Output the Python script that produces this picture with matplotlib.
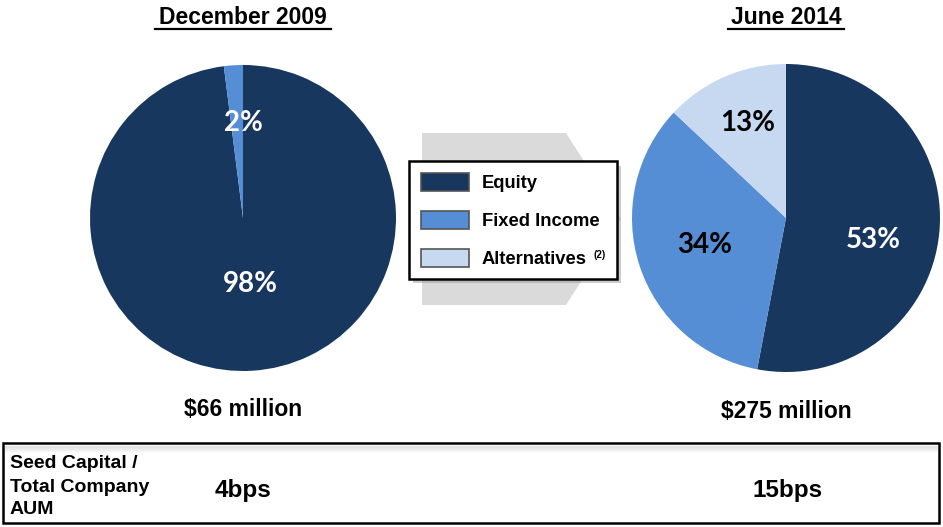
import matplotlib.pyplot as plt
from matplotlib.patches import Polygon, Rectangle

# data
categories = ["Equity", "Fixed Income", "Alternatives"]
colors = ["#17375E", "#558ED5", "#C6D9F1"]
dec2009 = [98, 2]
jun2014 = [53, 34, 13]
titles = ["December 2009", "June 2014"]
totals = ["$66 million", "$275 million"]
row_label = ["Seed Capital /", "Total Company", "AUM"]
bps = ["4bps", "15bps"]

W, H = 943, 527
fig = plt.figure(figsize=(W / 100, H / 100), dpi=100)
ax = fig.add_axes([0, 0, 1, 1])


def Y(y):
    # picture rows are counted from the top
    return H - y


def draw_pie(vals, cx, cy, r, label_xy, label_colors):
    wedges, _, autotexts = ax.pie(
        vals, colors=colors[:len(vals)], startangle=90, counterclock=False,
        center=(cx, Y(cy)), radius=r, frame=True,
        autopct=lambda p: f"{round(p):d}%",
        wedgeprops=dict(edgecolor="none", linewidth=0),
        textprops=dict(family="Lato", weight="bold", fontsize=20))
    for t, (lx, ly), c in zip(autotexts, label_xy, label_colors):
        t.set_position((lx, Y(ly)))
        t.set_color(c)


# gray arrow behind the legend
arrow = Polygon([(422, Y(133)), (566, Y(133)), (621, Y(219)), (566, Y(305)), (422, Y(305))],
                closed=True, facecolor="#DADADA", edgecolor="none", zorder=0)
ax.add_patch(arrow)

draw_pie(dec2009, 243, 218, 153, [(250, 284), (243, 123)], ["white", "white"])
draw_pie(jun2014, 786, 218, 154, [(873, 240), (705, 245), (748, 123)],
         ["white", "black", "black"])

# titles
for x, s, tw in zip([243, 786], titles, [176, 116]):
    ax.text(x, Y(17), s, ha="center", va="center", family="Liberation Sans",
            weight="bold", fontsize=16.5)
    ax.plot([x - tw / 2, x + tw / 2], [Y(29), Y(29)], color="black", lw=1.6)

for x, y, s in zip([243, 786], [409, 411], totals):
    ax.text(x, Y(y), s, ha="center", va="center", family="Liberation Sans",
            weight="bold", fontsize=16.5)

# legend box
ax.add_patch(Rectangle((413, Y(283)), 208, 117, facecolor="#9A9A9A", edgecolor="none",
                       alpha=0.5, zorder=3))
ax.add_patch(Rectangle((409, Y(279)), 208, 118, facecolor="white", edgecolor="black",
                       lw=1.8, zorder=4))
for i, (name, c) in enumerate(zip(categories, colors)):
    yy = 182 + i * 38
    ax.add_patch(Rectangle((421, Y(yy + 9)), 48, 18, facecolor=c, edgecolor="#555555",
                           lw=1.2, zorder=5))
    ax.text(482, Y(yy + 1), name, ha="left", va="center", family="Liberation Sans",
            weight="bold", fontsize=13.2, zorder=6)
ax.text(594, Y(255), "(2)", ha="left", va="center", family="Liberation Sans",
        weight="bold", fontsize=7, zorder=6)

# bottom box
ax.add_patch(Rectangle((3, Y(523)), 936, 80, facecolor="white", edgecolor="black",
                       lw=1.8, zorder=2))
for k in range(6):
    ax.plot([5, 937], [Y(446 + k), Y(446 + k)], color="#BBBBBB", alpha=0.35 - k * 0.05,
            lw=1, zorder=3)
for yy, s in zip([463, 487, 510], row_label):
    ax.text(10, Y(yy), s, ha="left", va="center", family="Liberation Sans",
            weight="bold", fontsize=14, zorder=4)
for x, s in zip([215, 752], bps):
    ax.text(x, Y(490), s, ha="left", va="center", family="Liberation Sans",
            weight="bold", fontsize=17.5, zorder=4)

ax.set_xlim(0, W)
ax.set_ylim(0, H)
ax.set_aspect("auto")
ax.axis("off")

fig.savefig("out.png", dpi=100)
